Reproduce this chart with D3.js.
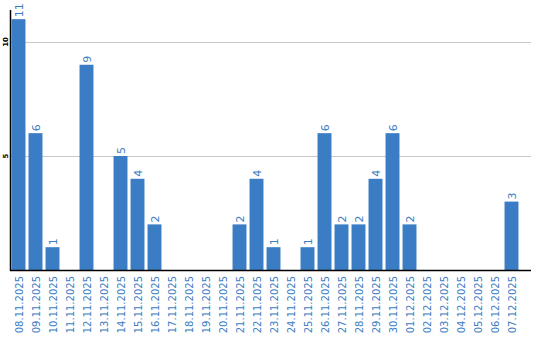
<!DOCTYPE html>
<html lang="en">
    <head>
        <meta charset="utf-8">
        <script src="https://d3js.org/d3.v7.min.js"></script>
        <style>
            body { margin: 0; background: #fff; }
        </style>
    </head>
    <body>
        <script>
        // daily counts, 08.11.2025 - 07.12.2025
        const dates = ["08.11.2025","09.11.2025","10.11.2025","11.11.2025","12.11.2025","13.11.2025",
            "14.11.2025","15.11.2025","16.11.2025","17.11.2025","18.11.2025","19.11.2025","20.11.2025",
            "21.11.2025","22.11.2025","23.11.2025","24.11.2025","25.11.2025","26.11.2025","27.11.2025",
            "28.11.2025","29.11.2025","30.11.2025","01.12.2025","02.12.2025","03.12.2025","04.12.2025",
            "05.12.2025","06.12.2025","07.12.2025"];
        const counts = [11,6,1,0,9,0,5,4,2,0,0,0,0,2,4,1,0,1,6,2,2,4,6,2,0,0,0,0,0,3];
        const yTicks = [5, 10];

        const blue = "#3b7dc4";
        const width = 540, height = 340;
        const plotLeft = 10, plotRight = 531, plotBottom = 270, plotTop = 10;

        const svg = d3.select("body").append("svg")
            .attr("width", width)
            .attr("height", height);

        const x = d3.scaleBand()
            .domain(dates)
            .range([plotLeft, 520])
            .paddingInner(0.18)
            .paddingOuter(0.09);

        const y = d3.scaleLinear()
            .domain([0, 11.84])
            .range([plotBottom, 0]);

        // grid
        svg.selectAll("line.grid")
            .data(yTicks)
            .join("line")
            .attr("x1", plotLeft).attr("x2", plotRight)
            .attr("y1", d => Math.round(y(d)) + 0.5)
            .attr("y2", d => Math.round(y(d)) + 0.5)
            .attr("stroke", "#c8c8c8")
            .attr("stroke-width", 1);

        // y tick labels
        svg.selectAll("text.ytick")
            .data(yTicks)
            .join("text")
            .attr("transform", d => `translate(8, ${y(d)}) rotate(-90)`)
            .attr("text-anchor", "middle")
            .attr("font-family", "DejaVu Sans")
            .attr("font-size", "7px")
            .attr("font-weight", "bold")
            .attr("fill", "#000")
            .text(d => d);

        // bars
        svg.selectAll("rect.bar")
            .data(counts)
            .join("rect")
            .attr("x", (d, i) => x(dates[i]))
            .attr("y", d => y(d))
            .attr("width", x.bandwidth())
            .attr("height", d => plotBottom - y(d))
            .attr("fill", blue);

        // value labels
        svg.selectAll("text.val")
            .data(counts.map((c, i) => ({c, date: dates[i]})).filter(d => d.c > 0))
            .join("text")
            .attr("transform", d => `translate(${x(d.date) + x.bandwidth() / 2 + 4}, ${y(d.c) - 2}) rotate(-90)`)
            .attr("font-family", "DejaVu Sans")
            .attr("font-size", "11px")
            .attr("fill", blue)
            .text(d => d.c);

        // axis lines
        svg.append("line")
            .attr("x1", plotLeft + 0.5).attr("x2", plotLeft + 0.5)
            .attr("y1", plotTop).attr("y2", plotBottom + 1)
            .attr("stroke", "#000").attr("stroke-width", 1.5);
        svg.append("line")
            .attr("x1", plotLeft).attr("x2", plotRight)
            .attr("y1", plotBottom + 0.5).attr("y2", plotBottom + 0.5)
            .attr("stroke", "#000").attr("stroke-width", 1.5);

        // x labels
        svg.selectAll("text.xlab")
            .data(dates)
            .join("text")
            .attr("transform", d => `translate(${x(d) + x.bandwidth() / 2 + 4}, 276) rotate(-90)`)
            .attr("text-anchor", "end")
            .attr("font-family", "DejaVu Sans")
            .attr("font-size", "10px")
            .attr("fill", blue)
            .text(d => d);
        </script>
    </body>
</html>
